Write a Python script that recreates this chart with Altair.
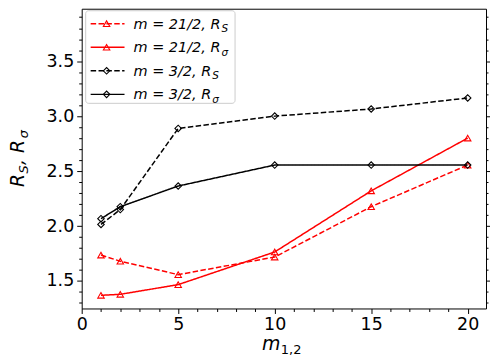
import altair as alt
import pandas as pd

# ---- data ----
x_vals = [1, 2, 5, 10, 15, 20]
rs_21 = [1.736, 1.68, 1.558, 1.718, 2.176, 2.555]
rsig_21 = [1.37, 1.379, 1.467, 1.764, 2.32, 2.80]
rs_3 = [2.015, 2.15, 2.888, 3.00, 3.065, 3.165]
rsig_3 = [2.067, 2.176, 2.364, 2.555, 2.555, 2.555]

series_keys = ["m21_RS", "m21_Rsig", "m3_RS", "m3_Rsig"]
series_main = ["m = 21/2, R", "m = 21/2, R", "m = 3/2, R", "m = 3/2, R"]
series_sub = ["S", "σ", "S", "σ"]
series_vals = [rs_21, rsig_21, rs_3, rsig_3]
series_color = ["#ff0000", "#ff0000", "#000000", "#000000"]
series_dash = [[5.5, 2.4], [1, 0], [5.5, 2.4], [1, 0]]
series_shape = ["triangle-up", "triangle-up", "diamond", "diamond"]

x_major = [0, 5, 10, 15, 20]
x_minor = [1, 2, 3, 4, 6, 7, 8, 9, 11, 12, 13, 14, 16, 17, 18, 19]
y_major = [1.5, 2.0, 2.5, 3.0, 3.5]
y_minor = [1.3, 1.4, 1.6, 1.7, 1.8, 1.9, 2.1, 2.2, 2.3, 2.4, 2.6, 2.7, 2.8, 2.9,
           3.1, 3.2, 3.3, 3.4, 3.6, 3.7, 3.8, 3.9]

FONT = "DejaVu Sans"
W, H = 406, 301

xs = alt.Scale(domain=[0, 20.95], nice=False, zero=False)
ys = alt.Scale(domain=[1.25, 3.977], nice=False, zero=False)

x_test = f"indexof({x_major}, datum.value) >= 0"
y_test = f"indexof({y_major}, datum.value) >= 0"

x_axis = alt.Axis(
    values=sorted(x_major + x_minor), title=None, grid=False, domain=False,
    labelExpr=f"{x_test} ? datum.label : ''",
    tickSize={"condition": {"test": x_test, "value": 5}, "value": 3},
    tickColor="black", labelColor="black", labelFont=FONT, labelFontSize=17.5,
    labelPadding=2, labelFlush=False, labelOverlap=False,
)
y_axis = alt.Axis(
    values=sorted(y_major + y_minor), title=None, grid=False, domain=False,
    labelExpr=f"{y_test} ? format(datum.value, '.1f') : ''",
    tickSize={"condition": {"test": y_test, "value": 5}, "value": 3},
    tickColor="black", labelColor="black", labelFont=FONT, labelFontSize=17.5,
    labelPadding=3, labelFlush=False, labelOverlap=False,
)
y_axis_right = alt.Axis(
    orient="right", values=sorted(y_major + y_minor), title=None, grid=False,
    domain=False, labels=False,
    tickSize={"condition": {"test": y_test, "value": 4}, "value": 2},
    tickColor="black",
)

rows = []
for key, vals in zip(series_keys, series_vals):
    for xv, yv in zip(x_vals, vals):
        rows.append({"series": key, "x": xv, "y": yv})
df = pd.DataFrame(rows)

data_layers = []
for key, col, dash, shp in zip(series_keys, series_color, series_dash, series_shape):
    sub = df[df["series"] == key]
    base = alt.Chart(sub).encode(
        x=alt.X("x:Q", scale=xs, axis=x_axis),
        y=alt.Y("y:Q", scale=ys, axis=y_axis),
    )
    data_layers.append(base.mark_line(color=col, strokeWidth=1.5, strokeDash=dash))
    data_layers.append(base.mark_point(shape=shp, filled=False, color=col,
                                       strokeWidth=1.1, size=42, opacity=1))

main = alt.layer(*data_layers)

right = alt.Chart(df).mark_point(opacity=0).encode(
    x=alt.X("x:Q", scale=xs, axis=x_axis),
    y=alt.Y("y:Q", scale=ys, axis=y_axis_right),
)

one = pd.DataFrame({"k": [0]})


def txt(x, y, s, size, italic=True, angle=0, align="left", baseline="alphabetic"):
    kw = dict(text=s, font=FONT, fontSize=size, align=align, baseline=baseline,
              color="black")
    if italic:
        kw["fontStyle"] = "italic"
    if angle:
        kw["angle"] = angle
    return alt.Chart(one).mark_text(**kw).encode(x=alt.value(x), y=alt.value(y))


deco = []
# legend box
deco.append(alt.Chart(one).mark_rect(fill="white", fillOpacity=0.8, stroke="#cccccc",
                                     strokeWidth=1, cornerRadius=3).encode(
    x=alt.value(4), x2=alt.value(154), y=alt.value(2), y2=alt.value(95)))
row_y = [15, 38.7, 62.4, 86]
sub_x = [140.5, 140.5, 131, 131]
for i in range(4):
    ry = row_y[i]
    deco.append(alt.Chart(one).mark_rule(color=series_color[i], strokeWidth=1.5,
                                         strokeDash=series_dash[i]).encode(
        x=alt.value(9), x2=alt.value(43), y=alt.value(ry)))
    deco.append(alt.Chart(one).mark_point(shape=series_shape[i], filled=False,
                                          color=series_color[i], strokeWidth=1.1,
                                          size=42, opacity=1).encode(
        x=alt.value(25), y=alt.value(ry)))
    deco.append(txt(52, ry + 5, series_main[i], 14.5))
    deco.append(txt(sub_x[i], ry + 8.5, series_sub[i], 10.5))

# y axis title  R_S, R_sigma (rotated)
deco.append(txt(-57.5, 179, "R", 19, angle=270))
deco.append(txt(-54.0, 165.5, "S", 13, angle=270))
deco.append(txt(-57.5, 157, ", R", 19, angle=270))
deco.append(txt(-54.0, 130, "σ", 13, angle=270))

# x axis title  m_{1,2}
deco.append(txt(181, 343, "m", 19))
deco.append(txt(200, 346.5, "1,2", 13, italic=False))

chart = alt.layer(main, right, *deco).resolve_axis(y="independent").properties(
    width=W, height=H,
    autosize=alt.AutoSizeParams(type="none"),
    padding={"left": 74, "top": 0, "right": 4, "bottom": 52},
).configure_view(stroke="black", strokeWidth=1)

chart.save("out.html", embed_options={"renderer": "svg", "actions": False})
